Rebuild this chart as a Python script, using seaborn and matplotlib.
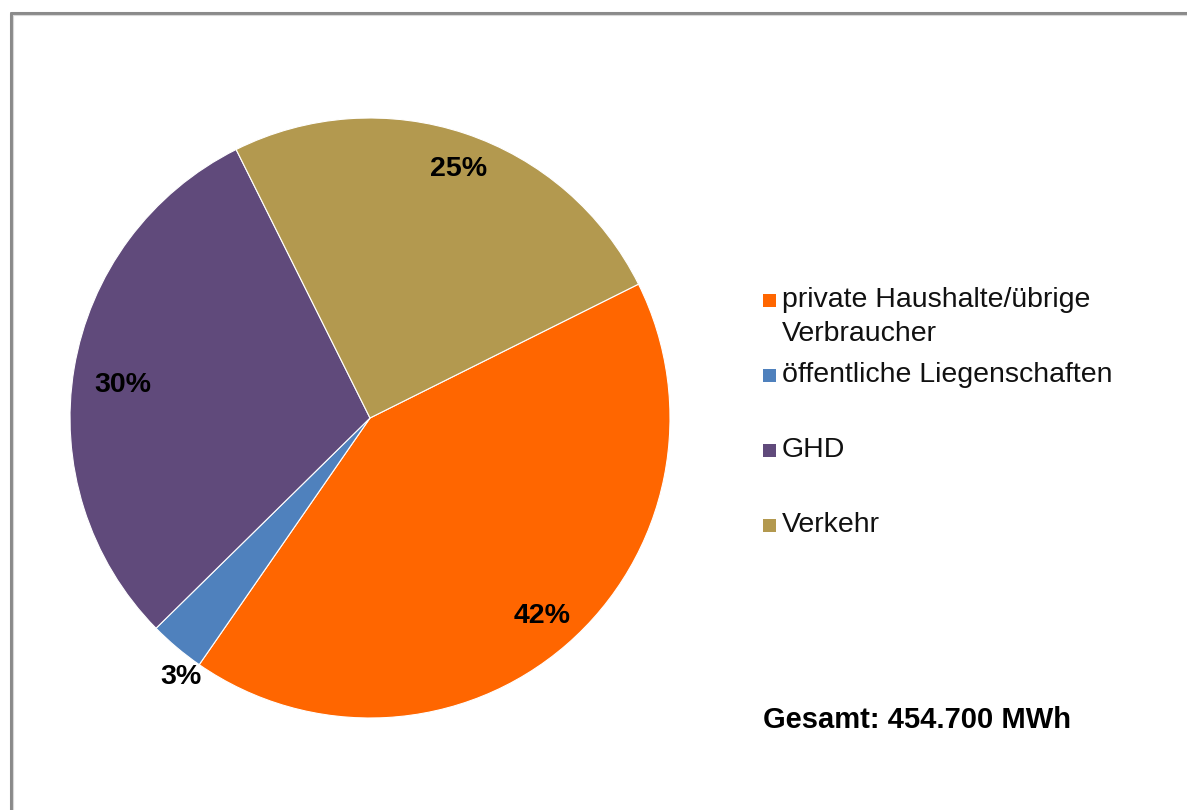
import numpy as np
import matplotlib
matplotlib.use("Agg")
import matplotlib.pyplot as plt
from matplotlib.lines import Line2D
from matplotlib.patches import Rectangle
import seaborn as sns

# Energy consumption shares by sector
categories = ["private Haushalte/übrige\nVerbraucher",
              "öffentliche Liegenschaften",
              "GHD",
              "Verkehr"]
shares = [42, 3, 30, 25]
colors = ["#FF6600", "#4F81BD", "#604A7B", "#B3994F"]
total_label = "Gesamt: 454.700 MWh"

sns.set_theme(style="white")
plt.rcParams["font.family"] = ["Liberation Sans", "DejaVu Sans"]

W, H = 1187, 810
fig = plt.figure(figsize=(W / 100, H / 100), dpi=100)
fig.patch.set_facecolor("white")

def fx(px):
    return px / W

def fy(py):
    return 1 - py / H

# pie axes: centre (370, 418) px, radius 300 px
cx, cy, r = 370, 418, 300
ax = fig.add_axes([fx(cx - r), fy(cy + r), 2 * r / W, 2 * r / H])
wedges, _ = ax.pie(shares, colors=colors, startangle=26.5, counterclock=False,
                   radius=1.0,
                   wedgeprops=dict(edgecolor="white", linewidth=0.8))
ax.set_xlim(-1, 1)
ax.set_ylim(-1, 1)
ax.set_aspect("equal")
ax.axis("off")

# percentage labels, placed along each wedge's mid-angle
label_radius = [0.875, 1.07, 0.83, 0.88]
label_shift = [0, 4, 2, -1]
for w, val, rad, sh in zip(wedges, shares, label_radius, label_shift):
    mid = np.deg2rad((w.theta1 + w.theta2) / 2 + sh)
    ax.text(rad * np.cos(mid), rad * np.sin(mid), f"{val}%",
            ha="center", va="center", fontsize=20.5, fontweight="bold",
            color="black")

# legend entries
leg_x_box, leg_x_text = 763, 782
leg_y0, leg_step = 300, 75
box = 13
for i, (lab, col) in enumerate(zip(categories, colors)):
    yc = leg_y0 + i * leg_step
    fig.patches.append(Rectangle((fx(leg_x_box), fy(yc + box / 2)),
                                 box / W, box / H, facecolor=col,
                                 edgecolor="none", transform=fig.transFigure))
    fig.text(fx(leg_x_text), fy(yc - 13), lab, ha="left", va="top",
             fontsize=20.5, color="#111111", linespacing=1.42)

fig.text(fx(763), fy(720), total_label, ha="left", va="center",
         fontsize=21, fontweight="bold", color="black")

# chart frame (top and left edges)
fig.add_artist(Line2D([fx(10.5), 1.0], [fy(12.5), fy(12.5)], color="#8a8a8a",
                      linewidth=2.2, transform=fig.transFigure))
fig.add_artist(Line2D([fx(10.5), fx(10.5)], [fy(12.5), 0.0], color="#8a8a8a",
                      linewidth=2.2, transform=fig.transFigure))
fig.add_artist(Line2D([fx(12.5), 1.0], [fy(14.5), fy(14.5)], color="#d8d8d8",
                      linewidth=0.8, transform=fig.transFigure))
fig.add_artist(Line2D([fx(12.5), fx(12.5)], [fy(14.5), 0.0], color="#d8d8d8",
                      linewidth=0.8, transform=fig.transFigure))

fig.savefig("out.png", dpi=100, facecolor="white")
